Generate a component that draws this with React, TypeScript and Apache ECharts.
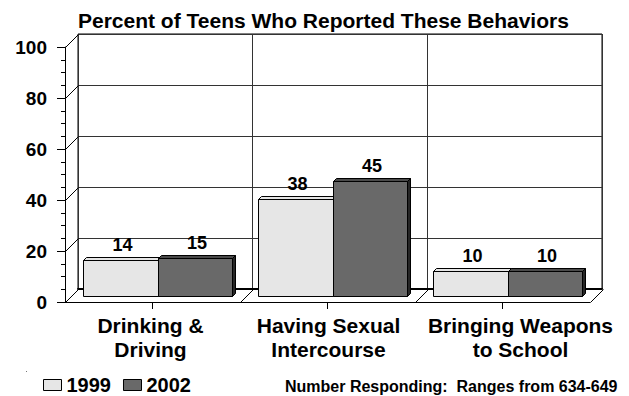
import React, { useEffect, useRef } from "react";
import * as echarts from "echarts";

const categories = ["Drinking &\nDriving", "Having Sexual\nIntercourse", "Bringing Weapons\nto School"];
const seriesNames = ["1999", "2002"];
const values1999 = [14, 38, 10];
const values2002 = [15, 45, 10];
const yTicks = [0, 20, 40, 60, 80, 100];
const categoryBoundaries = [0, 1, 2, 3];
const titleText = "Percent of Teens Who Reported These Behaviors";
const footnoteText = "Number Responding:  Ranges from 634-649";

const FONT = '"Liberation Sans", Arial, Helvetica, sans-serif';
const DEPTH = 13;
const BAR_DEPTH = 3;
const BACK = { left: 78, top: 34, width: 524, height: 255 };
const FRONT = { left: BACK.left - DEPTH, top: BACK.top + DEPTH, width: 525, height: 255 };
const BARS = { left: FRONT.left + 6, top: FRONT.top - 6, width: 525, height: 255 };
const labelPaddings = [[0, 4, 0, 0], [0, 0, 0, 2], [0, 0, 0, 36]];

const colors = [
  { front: "#e6e6e6", top: "#e6e6e6", side: "#bdbdbd" },
  { front: "#696969", top: "#4a4a4a", side: "#262626" },
];

const r = (v: number) => Math.round(v) + 0.5;

const makeBarRenderer = (idx: number) => (params: any, api: any) => {
  const cat = api.value(0);
  const val = api.value(1);
  const base = api.coord([cat, 0]);
  const top = api.coord([cat, val]);
  const band = api.size([1, 0])[0];
  const bw = band * 0.426;
  const x0 = r(base[0] - bw - 1 + idx * bw);
  const x1 = r(base[0] - bw - 1 + (idx + 1) * bw);
  const yb = r(base[1]);
  const yt = r(top[1]);
  const d = BAR_DEPTH;
  const c = colors[idx];
  const stroke = { stroke: "#000", lineWidth: 1 };
  return {
    type: "group",
    children: [
      { type: "rect", shape: { x: x0, y: yt, width: x1 - x0, height: yb - yt }, style: { fill: c.front, ...stroke } },
      {
        type: "polygon",
        shape: { points: [[x0, yt], [x1, yt], [x1 + d, yt - d], [x0 + d, yt - d]] },
        style: { fill: c.top, ...stroke },
      },
      {
        type: "polygon",
        shape: { points: [[x1, yt], [x1 + d, yt - d], [x1 + d, yb - d], [x1, yb]] },
        style: { fill: c.side, ...stroke },
      },
      {
        type: "text",
        style: {
          text: String(val),
          x: (x0 + x1) / 2 + 1.5,
          y: yt - 16,
          align: "center",
          verticalAlign: "middle",
          font: `bold 18px ${FONT}`,
          fill: "#000",
        },
      },
    ],
  };
};

const wallDiagRenderer = (params: any, api: any) => {
  const v = api.value(1);
  const p = api.coord([0, v]);
  const band = api.size([1, 0])[0];
  const x = r(p[0] - band / 2);
  const y = r(p[1]);
  return {
    type: "line",
    shape: { x1: x, y1: y, x2: x + DEPTH, y2: y - DEPTH },
    style: { stroke: "#000", lineWidth: 1 },
  };
};

const floorDiagRenderer = (params: any, api: any) => {
  const k = api.value(0);
  const p = api.coord([0, 0]);
  const band = api.size([1, 0])[0];
  const x = r(p[0] - band / 2 + k * band);
  const y = r(p[1]);
  return {
    type: "line",
    shape: { x1: x, y1: y, x2: x + DEPTH, y2: y - DEPTH },
    style: { stroke: "#000", lineWidth: 1 },
  };
};

export default function App() {
  const ref = useRef<HTMLDivElement>(null);
  useEffect(() => {
    document.body.style.margin = "0";
    const chart = echarts.init(ref.current!, null, { renderer: "svg" });
    const option: any = {
      animation: false,
      backgroundColor: "#fff",
      textStyle: { fontFamily: FONT },
      title: {
        text: titleText,
        left: 73,
        top: 5,
        textStyle: { fontFamily: FONT, fontWeight: "bold", fontSize: 21, color: "#000" },
      },
      legend: {
        data: seriesNames,
        left: 43,
        top: 375,
        padding: 0,
        icon: "rect",
        itemWidth: 18,
        itemHeight: 11,
        itemGap: 12,
        itemStyle: { borderColor: "#000", borderWidth: 1 },
        textStyle: { fontFamily: FONT, fontWeight: "bold", fontSize: 20, lineHeight: 20, color: "#000" },
      },
      graphic: [
        {
          type: "text",
          left: 285,
          top: 378,
          style: { text: footnoteText, font: `bold 16px ${FONT}`, fill: "#000" },
        },
        { type: "rect", shape: { x: 26, y: 371, width: 1, height: 1 }, style: { fill: "#777" } },
      ],
      grid: [
        { ...BACK, show: true, borderColor: "#000", borderWidth: 1, backgroundColor: "transparent" },
        { ...FRONT },
        { ...BARS },
      ],
      xAxis: [
        {
          gridIndex: 0,
          type: "category",
          data: categories,
          axisLine: { show: true, lineStyle: { color: "#000", width: 2 } },
          axisTick: { show: false },
          axisLabel: { show: false },
          splitLine: { show: true, lineStyle: { color: "#333", width: 1 } },
        },
        {
          gridIndex: 1,
          type: "category",
          data: categories.map((c, i) => ({ value: c, textStyle: { padding: labelPaddings[i] } })),
          axisLine: { show: true, lineStyle: { color: "#000", width: 1 } },
          axisTick: { show: true, alignWithLabel: true, length: 7, lineStyle: { color: "#000" } },
          axisLabel: {
            interval: 0,
            margin: 11,
            fontFamily: FONT,
            fontWeight: "bold",
            fontSize: 21,
            lineHeight: 24,
            color: "#000",
          },
          splitLine: { show: false },
        },
        { gridIndex: 2, type: "category", data: categories, show: false },
      ],
      yAxis: [
        {
          gridIndex: 0,
          type: "value",
          min: 0,
          max: 100,
          interval: 20,
          axisLine: { show: false },
          axisTick: { show: false },
          axisLabel: { show: false },
          splitLine: { show: true, lineStyle: { color: "#333", width: 1 } },
        },
        {
          gridIndex: 1,
          type: "value",
          min: 0,
          max: 100,
          interval: 20,
          axisLine: { show: true, lineStyle: { color: "#000", width: 1 } },
          axisTick: { show: true, length: 8, lineStyle: { color: "#000" } },
          minorTick: { show: true, splitNumber: 4, length: 4, lineStyle: { color: "#000" } },
          axisLabel: { margin: 18, fontFamily: FONT, fontWeight: "bold", fontSize: 19, color: "#000" },
          splitLine: { show: false },
        },
        { gridIndex: 2, type: "value", min: 0, max: 100, show: false },
      ],
      series: [
        {
          type: "custom",
          name: "wall",
          xAxisIndex: 1,
          yAxisIndex: 1,
          data: yTicks.map((v) => [0, v]),
          renderItem: wallDiagRenderer,
          silent: true,
          z: 1,
        },
        {
          type: "custom",
          name: "floor",
          xAxisIndex: 1,
          yAxisIndex: 1,
          data: categoryBoundaries.map((k) => [k, 0]),
          renderItem: floorDiagRenderer,
          silent: true,
          z: 1,
        },
        {
          type: "custom",
          name: seriesNames[0],
          xAxisIndex: 2,
          yAxisIndex: 2,
          data: values1999.map((v, i) => [i, v]),
          encode: { x: 0, y: 1 },
          itemStyle: { color: colors[0].front },
          renderItem: makeBarRenderer(0),
          z: 3,
        },
        {
          type: "custom",
          name: seriesNames[1],
          xAxisIndex: 2,
          yAxisIndex: 2,
          data: values2002.map((v, i) => [i, v]),
          encode: { x: 0, y: 1 },
          itemStyle: { color: colors[1].front },
          renderItem: makeBarRenderer(1),
          z: 4,
        },
      ],
    };
    chart.setOption(option);
    return () => chart.dispose();
  }, []);
  return <div ref={ref} style={{ width: 629, height: 396, position: "absolute", left: 0, top: 0 }} />;
}
